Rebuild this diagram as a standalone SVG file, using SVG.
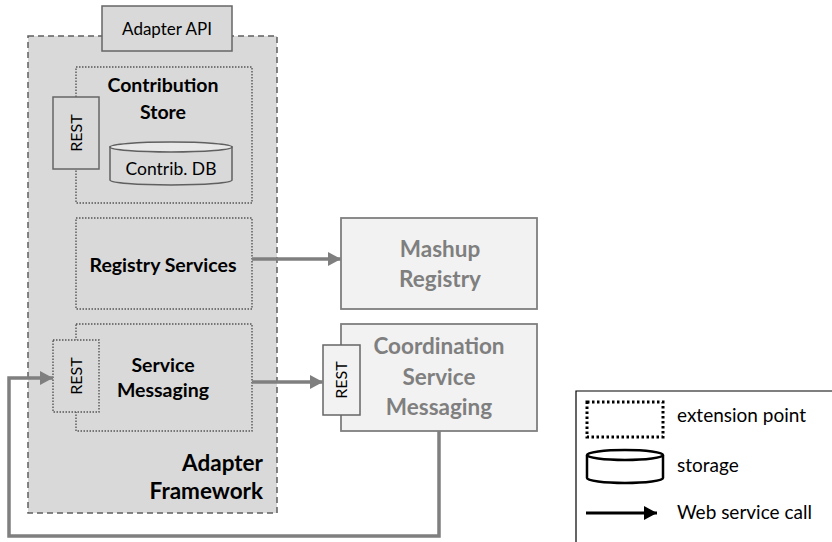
<svg xmlns="http://www.w3.org/2000/svg" width="832" height="542" viewBox="0 0 832 542">
  <defs>
    <style>
      text { font-family: Lato, "Open Sans", "Liberation Sans", sans-serif; }
      .frame { fill: #d9d9d9; stroke: #5f5f5f; stroke-width: 1.5; stroke-dasharray: 6 4; }
      .ext { fill: #d9d9d9; stroke: #555; stroke-width: 1.4; stroke-dasharray: 1.5 1.5; }
      .plain { fill: #d9d9d9; stroke: #666; stroke-width: 1.5; }
      .ext-svc { fill: #f2f2f2; stroke: #7f7f7f; stroke-width: 1.8; }
      .rest-ext { fill: #f2f2f2; stroke: #666; stroke-width: 1.5; }
      .lbl { font-size: 19.5px; font-weight: bold; fill: #000; text-anchor: middle; }
      .big { font-size: 22.5px; font-weight: bold; fill: #000; }
      .grey { font-size: 22.5px; font-weight: bold; fill: #7f7f7f; text-anchor: middle; }
      .small { font-size: 16px; fill: #000; text-anchor: middle; }
      .legend { font-size: 19px; fill: #000; }
      .call { fill: none; stroke: #7f7f7f; stroke-width: 3.5; }
    </style>
    <marker id="arrow-grey" markerUnits="userSpaceOnUse" markerWidth="14" markerHeight="16" viewBox="0 0 14 16" refX="13" refY="8" orient="auto">
      <path d="M0,1 L13,8 L0,15 Z" fill="#7f7f7f"/>
    </marker>
    <marker id="arrow-black" markerUnits="userSpaceOnUse" markerWidth="14" markerHeight="16" viewBox="0 0 14 16" refX="13" refY="8" orient="auto">
      <path d="M0,1 L13,8 L0,15 Z" fill="#000"/>
    </marker>
  </defs>

  <rect width="832" height="542" fill="#fff"/>

  <!-- Adapter framework container -->
  <g id="adapter-framework">
    <rect class="frame" x="28" y="36" width="249" height="477"/>
    <text class="big" x="263" y="471" text-anchor="end">Adapter</text>
    <text class="big" x="263" y="499" text-anchor="end">Framework</text>
  </g>

  <g id="adapter-api">
    <rect class="plain" x="102" y="6" width="130" height="45"/>
    <text class="small" x="167" y="35" style="font-size:17px">Adapter API</text>
  </g>

  <g id="contribution-store">
    <rect class="ext" x="76" y="67" width="176" height="136"/>
    <text class="lbl" x="163" y="92">Contribution</text>
    <text class="lbl" x="163" y="119">Store</text>
  </g>

  <g id="contribution-rest">
    <rect class="plain" x="53" y="97" width="46" height="72"/>
    <text class="small" transform="translate(82,133) rotate(-90)">REST</text>
  </g>

  <g id="contrib-db">
    <path d="M110,147 L110,180 A61,5 0 0 0 232,180 L232,147 Z" fill="#d9d9d9" stroke="#606060" stroke-width="1.5"/>
    <ellipse cx="171" cy="147" rx="61" ry="5" fill="#e8e8e8" stroke="#606060" stroke-width="1.5"/>
    <text class="small" x="171" y="175" style="font-size:17.5px">Contrib. DB</text>
  </g>

  <g id="registry-services">
    <rect class="ext" x="76" y="218" width="176" height="91"/>
    <text class="lbl" x="163" y="272">Registry Services</text>
  </g>

  <g id="service-messaging">
    <rect class="ext" x="76" y="324" width="176" height="107"/>
    <text class="lbl" x="163" y="372">Service</text>
    <text class="lbl" x="163" y="397">Messaging</text>
  </g>

  <g id="service-messaging-rest">
    <rect class="ext" x="53" y="340" width="46" height="72"/>
    <text class="small" transform="translate(82,376) rotate(-90)">REST</text>
  </g>

  <g id="mashup-registry">
    <rect class="ext-svc" x="341" y="218" width="196" height="91"/>
    <text class="grey" x="440" y="257">Mashup</text>
    <text class="grey" x="440" y="287">Registry</text>
  </g>

  <g id="coordination-service">
    <rect class="ext-svc" x="341" y="324" width="196" height="107"/>
    <text class="grey" x="439" y="354">Coordination</text>
    <text class="grey" x="439" y="385">Service</text>
    <text class="grey" x="439" y="415">Messaging</text>
  </g>

  <g id="coordination-rest">
    <rect class="rest-ext" x="323" y="345" width="37" height="70"/>
    <text class="small" transform="translate(347,380) rotate(-90)">REST</text>
  </g>

  <!-- web service calls -->
  <g id="connectors">
    <path class="call" d="M252,259 H341" marker-end="url(#arrow-grey)"/>
    <path class="call" d="M252,382 H323" marker-end="url(#arrow-grey)"/>
    <path class="call" d="M439,431 V536 H9 V378 H53" marker-end="url(#arrow-grey)"/>
  </g>

  <!-- legend -->
  <g id="legend">
    <path d="M576,542 V391 H832" fill="none" stroke="#000" stroke-width="1.2"/>
    <rect x="587" y="402" width="76" height="35" fill="none" stroke="#000" stroke-width="3" stroke-dasharray="2.5 2.5"/>
    <text class="legend" x="677" y="422">extension point</text>
    <path d="M587,455 L587,478 A38,5 0 0 0 663,478 L663,455" fill="#fff" stroke="#000" stroke-width="2.5"/>
    <ellipse cx="625" cy="455" rx="38" ry="5" fill="#fff" stroke="#000" stroke-width="2.5"/>
    <text class="legend" x="677" y="472">storage</text>
    <path d="M586,513 H657" fill="none" stroke="#000" stroke-width="3" marker-end="url(#arrow-black)"/>
    <text class="legend" x="677" y="519">Web service call</text>
  </g>
</svg>
